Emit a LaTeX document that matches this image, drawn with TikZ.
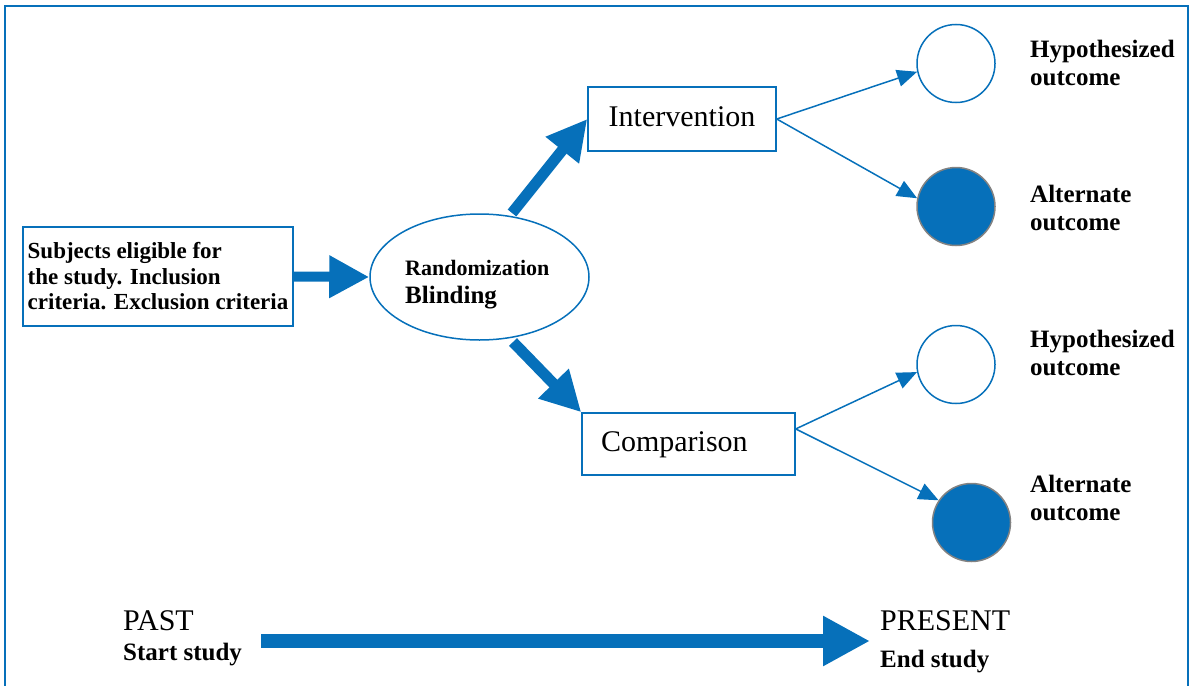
\documentclass[tikz,border=0pt]{standalone}
\usepackage{fontspec}
\setmainfont{Liberation Serif}
\usetikzlibrary{arrows.meta,shapes.geometric}
\definecolor{wblue}{RGB}{6,112,186}
\definecolor{rimgray}{RGB}{130,130,130}
\begin{document}
\begin{tikzpicture}[x=1pt,y=-1pt,
  box/.style={draw=wblue,line width=1.5pt,rectangle,inner sep=0pt},
  bigtxt/.style={font=\fontsize{30}{36}\selectfont},
  lbl/.style={font=\fontsize{25}{28}\selectfont\bfseries,align=left,anchor=base west,inner sep=0pt},
  openout/.style={circle,draw=wblue,line width=1.5pt,fill=white,minimum size=78pt,inner sep=0pt},
  fullout/.style={circle,draw=rimgray,line width=1.5pt,fill=wblue,minimum size=78pt,inner sep=0pt},
  fatarrow/.style={draw=wblue,line width=11pt,-{Triangle[length=40pt,width=40pt]}},
  thinarrow/.style={draw=wblue,line width=1.5pt,-{Triangle[length=20pt,width=17pt]}}
]
\useasboundingbox (0,0) rectangle (1190,685);
% frame
\draw[wblue,line width=2.6pt,line join=miter] (5,700) -- (5,6) -- (1188,6) -- (1188,700);

% nodes
\node[box,minimum width=270pt,minimum height=99pt,align=left,
      font=\fontsize{23}{25.5}\selectfont\bfseries] (subj) at (158,276.5)
      {Subjects eligible for\\the study. Inclusion\\criteria. Exclusion criteria};
\node[ellipse,draw=wblue,line width=1.5pt,minimum width=219pt,minimum height=126pt,inner sep=0pt] (ell) at (479.5,277) {};
\node[anchor=base west,align=left,inner sep=0pt,font=\fontsize{22}{28}\selectfont\bfseries] (elltxt) at (405,303)
      {Randomization\\{\fontsize{25}{28}\selectfont Blinding}};
\node[box,bigtxt,minimum width=188pt,minimum height=64pt,text height=20pt,text depth=6pt] (int) at (682,119) {Intervention};
\node[box,bigtxt,minimum height=62pt,text height=20pt,text depth=6pt,
      text width=175pt,inner xsep=19pt,align=left] (comp) at (688.5,444) {Comparison};

\node[openout] (c1) at (956,63.5) {};
\node[fullout] (c2) at (956,206.5) {};
\node[openout] (c3) at (956,364.5) {};
\node[fullout] (c4) at (971.5,522.5) {};

\node[lbl] (l1) at (1030,85) {Hypothesized\\outcome};
\node[lbl] (l2) at (1030,230) {Alternate\\outcome};
\node[lbl] (l3) at (1030,375) {Hypothesized\\outcome};
\node[lbl] (l4) at (1030,520) {Alternate\\outcome};

\node[bigtxt,anchor=base west,inner sep=0pt] (past) at (123,630) {PAST};
\node[font=\fontsize{25}{28}\selectfont\bfseries,anchor=base west,inner sep=0pt] (start) at (123,660) {Start study};
\node[bigtxt,anchor=base west,inner sep=0pt] (present) at (880,630) {PRESENT};
\node[font=\fontsize{25}{28}\selectfont\bfseries,anchor=base west,inner sep=0pt] (end) at (880,667) {End study};

% connectors
\coordinate (a1) at (512,213);
\coordinate (a2) at (513,342);
\coordinate (tl) at (261,641);
\coordinate (tr) at (870,641);
\draw[fatarrow,line width=10pt] (subj.east) -- (ell.west);
\draw[fatarrow] (a1) -- (int.west);
\draw[fatarrow] (a2) -- (comp.north west);
\draw[thinarrow] (int.east) -- (c1.192);
\draw[thinarrow] (int.east) -- (c2.168);
\draw[thinarrow] (comp.8) -- (c3.191);
\draw[thinarrow] (comp.8) -- (c4.146);
\draw[draw=wblue,line width=14pt,-{Triangle[length=47pt,width=47pt]}] (tl) -- (tr);
\end{tikzpicture}
\end{document}
